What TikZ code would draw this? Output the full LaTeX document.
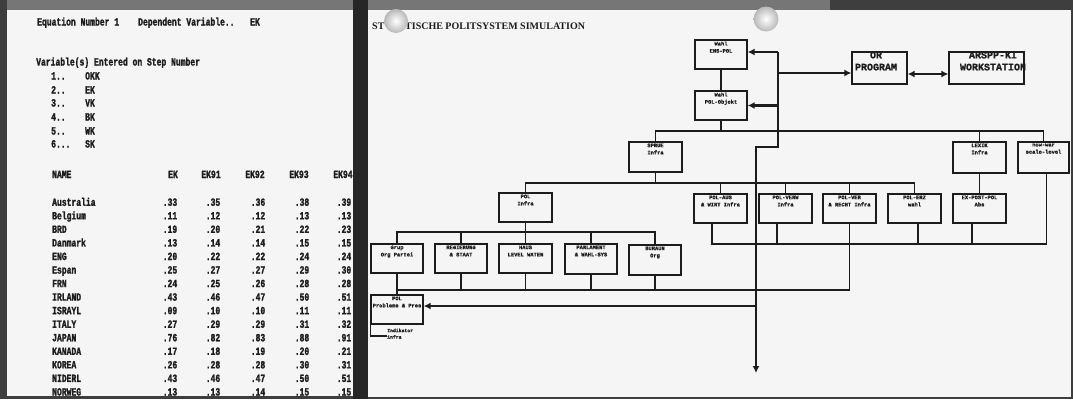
\documentclass[tikz,border=0pt]{standalone}
\usepackage{fontspec}
\setmainfont{Liberation Serif}
\newfontfamily\lpfont[FakeStretch=0.73, BoldFeatures={FakeBold=1.6}]{Liberation Mono}
\newfontfamily\boxfont[BoldFeatures={FakeBold=1.2}]{Liberation Mono}
\usetikzlibrary{arrows.meta}
\definecolor{paper}{HTML}{F5F5F5}
\definecolor{ink}{HTML}{1C1C1C}
\definecolor{bg}{HTML}{3E3E3E}
\definecolor{strip}{HTML}{767676}
\tikzset{
  lp/.style={anchor=base west, inner sep=0pt, text=ink,
    font=\lpfont\bfseries\fontsize{11}{11}\selectfont},
  lpc/.style={lp, anchor=base},
  bx/.style={draw=ink, line width=1.3pt, fill=paper, inner sep=0pt,
    minimum width=53pt, minimum height=29pt},
  bl/.style={anchor=north, inner sep=0pt, align=center, text=ink,
    font=\boxfont\bfseries\fontsize{5.4}{7.2}\selectfont},
  bigl/.style={anchor=north, inner sep=0pt, align=center, text=ink,
    font=\boxfont\bfseries\fontsize{10}{12}\selectfont},
  ttl/.style={anchor=base west, inner sep=0pt, text=ink,
    font=\bfseries\fontsize{10}{10}\selectfont},
  wire/.style={draw=ink, line width=1.1pt},
  bus/.style={draw=ink, line width=2.3pt, line join=miter},
  tip/.style={-{Latex[length=7pt,width=7pt]}},
  dtip/.style={{Latex[length=7pt,width=7pt]}-{Latex[length=7pt,width=7pt]}},
  pin/.style={inner color=white, outer color=gray!55},
}
\begin{document}
\begin{tikzpicture}[x=1pt,y=-1pt]
\useasboundingbox (0,0) rectangle (1073,399);
% photo background and the two sheets
\fill[bg] (0,0) rectangle (1073,399);
\fill[strip] (7,0) rectangle (830,10);
\fill[black!85] (353,0) rectangle (368,399);
\fill[paper] (7,10) rectangle (353,396);
\fill[paper] (368,10) rectangle (1071,397);

% ---------------- left sheet ----------------
\begin{scope}
\clip (7,10) rectangle (353,396);
\node[lp] (eq) at (37,25.5) {Equation Number 1};
\node[lp] (dv) at (138,25.5) {Dependent Variable..};
\node[lp] (dvn) at (250,25.5) {EK};
\node[lp] (ve) at (36,65.5) {Variable(s) Entered on Step Number};
\node[lp] (sn1) at (51,79.5) {1..};
\node[lp] (sn2) at (51,93.5) {2..};
\node[lp] (sn3) at (51,106.5) {3..};
\node[lp] (sn4) at (51,120.5) {4..};
\node[lp] (sn5) at (51,134.5) {5..};
\node[lp] (sn6) at (51,147.5) {6...};
\node[lp] (sv1) at (85,79.5) {OKK};
\node[lp] (sv2) at (85,93.5) {EK};
\node[lp] (sv3) at (85,106.5) {VK};
\node[lp] (sv4) at (85,120.5) {BK};
\node[lp] (sv5) at (85,134.5) {WK};
\node[lp] (sv6) at (85,147.5) {SK};
\node[lp] (nm) at (52,178) {NAME};
\foreach \h/\x [count=\i] in {EK/173, EK91/211, EK92/255, EK93/299, EK94/343}{
  \node[lpc] (hd\i) at (\x,178) {\h};
}
\foreach \nme/\a/\b/\c/\d/\e [count=\i] in {
  Australia/.33/.35/.36/.38/.39,
  Belgium/.11/.12/.12/.13/.13,
  BRD/.19/.20/.21/.22/.23,
  Danmark/.13/.14/.14/.15/.15,
  ENG/.20/.22/.22/.24/.24,
  Espan/.25/.27/.27/.29/.30,
  FRN/.24/.25/.26/.28/.28,
  IRLAND/.43/.46/.47/.50/.51,
  ISRAYL/.09/.10/.10/.11/.11,
  ITALY/.27/.29/.29/.31/.32,
  JAPAN/.76/.82/.83/.88/.91,
  KANADA/.17/.18/.19/.20/.21,
  KOREA/.26/.28/.28/.30/.31,
  NIDERL/.43/.46/.47/.50/.51,
  NORWEG/.13/.13/.14/.15/.15}{
  \pgfmathsetmacro\yy{202.3+(\i-1)*13.55+3.5}
  \node[lp] (r\i) at (52,\yy) {\nme};
  \node[lpc] (r\i a) at (170,\yy) {\a};
  \node[lpc] (r\i b) at (213,\yy) {\b};
  \node[lpc] (r\i c) at (258,\yy) {\c};
  \node[lpc] (r\i d) at (302,\yy) {\d};
  \node[lpc] (r\i e) at (344,\yy) {\e};
}
\end{scope}

% ---------------- right sheet ----------------
\node[ttl] (t1) at (372,29) {ST};
\node[ttl] (t2) at (405,29) {TISCHE POLITSYSTEM SIMULATION};

% boxes
\node[bx, minimum width=52pt] (A) at (721,54.5) {};
\node[bx, minimum width=52pt] (B) at (721,105.5) {};
\node[bx, minimum height=30pt] (C) at (655.5,157) {};
\node[bx, minimum height=31pt] (D) at (979.5,157.5) {};
\node[bx, minimum width=51pt, minimum height=31pt] (E) at (1043.5,157.5) {};
\node[bx, minimum width=55pt, minimum height=32pt] (F) at (879.5,68) {};
\node[bx, minimum width=75pt, minimum height=32pt] (G) at (986.5,68) {};
\node[bx] (H) at (525.5,207.5) {};
\node[bx] (I1) at (720.5,208.5) {};
\node[bx] (I2) at (785.5,208.5) {};
\node[bx] (I3) at (849.5,208.5) {};
\node[bx] (I4) at (914.5,208.5) {};
\node[bx] (I5) at (979.5,208.5) {};
\node[bx, minimum width=52pt] (J1) at (397,258.5) {};
\node[bx, minimum width=52pt] (J2) at (461,258.5) {};
\node[bx] (J3) at (525.5,258.5) {};
\node[bx, minimum width=52pt, minimum height=30pt] (J4) at (591,259) {};
\node[bx, minimum width=52pt, minimum height=30pt] (J5) at (655,260) {};
\node[bx, minimum width=52pt] (K) at (397,309.5) {};

% box texts
\node[bl] (Al) at ([yshift=-2pt]A.north) {Wahl\\ENS-POL};
\node[bl] (Bl) at ([yshift=-2pt]B.north) {Wahl\\POL-Objekt};
\node[bl] (Cl) at ([yshift=-2pt]C.north) {SPRUE\\Infra};
\node[bl] (Dl) at ([yshift=-2pt]D.north) {LEXIK\\Infra};
\node[bl] (El) at ([yshift=-2pt]E.north) {now-war\\scale-level};
\node[bigl] (Fl) at (876,51.5) {OR\\PROGRAM};
\node[bigl] (Gl) at (993,51.5) {ARSPP-KI\\WORKSTATION};
\node[bl] (Hl) at ([yshift=-2pt]H.north) {POL\\Infra};
\node[bl] (I1l) at ([yshift=-2pt]I1.north) {POL-AUS\\\& WIRT Infra};
\node[bl] (I2l) at ([yshift=-2pt]I2.north) {POL-VERW\\Infra};
\node[bl] (I3l) at ([yshift=-2pt]I3.north) {POL-VER\\\& RECHT Infra};
\node[bl] (I4l) at ([yshift=-2pt]I4.north) {POL-ERZ\\wahl};
\node[bl] (I5l) at ([yshift=-2pt]I5.north) {EX-POST-POL\\Abs};
\node[bl] (J1l) at ([yshift=-2pt]J1.north) {Grup\\Org Partei};
\node[bl] (J2l) at ([yshift=-2pt]J2.north) {REGIERUNG\\\& STAAT};
\node[bl] (J3l) at ([yshift=-2pt]J3.north) {HAUS\\LEVEL WATEN};
\node[bl] (J4l) at ([yshift=-2pt]J4.north) {PARLAMENT\\\& WAHL-SYS};
\node[bl] (J5l) at ([yshift=-2pt]J5.north) {BURAUN\\Org};
\node[bl] (Kl) at ([yshift=-2pt]K.north) {POL\\Probleme \& Pres};
\node[bl, anchor=north west, align=left, font=\boxfont\bfseries\fontsize{4.8}{6.5}\selectfont]
  (Kn) at (387,328.5) {Indikator\\infra};

% thin connectors
\coordinate (h1) at (0,131);
\coordinate (h2) at (0,183);
\coordinate (h3) at (0,232);
\coordinate (h4) at (0,290);
\coordinate (h5) at (0,244);
\draw[wire] (A.south) -- (B.north);
\draw[wire] (B.south) -- (B.south |- h1);
\draw[wire] (C.north) -- (C.north |- h1) -| (E.north);
\draw[wire] (D.north) -- (D.north |- h1);
\draw[wire] (C.south) -- (C.south |- h2);
\draw[wire] (H.north) -- (H.north |- h2) -| (I4.north);
\foreach \n in {I1,I2,I3}{\draw[wire] (\n.north) -- (\n.north |- h2);}
\draw[wire] (D.south) -- (I5.north);
\draw[wire] (H.south) -- (H.south |- h3);
\draw[wire] (J1.north) -- (J1.north |- h3) -| (J5.north);
\foreach \n in {J2,J3,J4}{\draw[wire] (\n.north) -- (\n.north |- h3);}
\draw[wire] (J1.south) -- (K.north);
\draw[wire] (J1.south |- h4) -| (I3.south);
\foreach \n in {J2,J3,J4,J5}{\draw[wire] (\n.south) -- (\n.south |- h4);}
\coordinate (i1d) at ([xshift=-8.5pt]I1.south);
\coordinate (i2d) at ([xshift=-8.5pt]I2.south);
\coordinate (i4d) at ([xshift=3.5pt]I4.south);
\coordinate (i5d) at ([xshift=-7.5pt]I5.south);
\coordinate (ed) at ([xshift=3pt]E.south);
\draw[wire] (i1d) -- (i1d |- h5) -| (ed);
\foreach \n in {i2d,i4d,i5d}{\draw[wire] (\n) -- (\n |- h5);}
\coordinate (kb) at (387,336);
\draw[wire] (K.south west) |- (kb);

% thick bus with arrows
\coordinate (T1) at (778,52);
\coordinate (T2) at (778,147);
\coordinate (T3) at (756,147);
\coordinate (T4) at (756,373);
\coordinate (T5) at (778,105.5);
\coordinate (T6) at (778,73);
\coordinate (T7) at (0,74);
\coordinate (T8) at (756,306);
\draw[bus, tip] (T1) -- (T2) -- (T3) -- (T4);
\draw[bus, tip] (T1) -- (A.east |- T1);
\draw[bus, tip] (T5) -- (B.east);
\draw[bus, tip] (T6) -- (F.west |- T6);
\draw[bus, dtip] (F.east |- T7) -- (G.west |- T7);
\draw[bus, tip] (T8) -- (K.east |- T8);

% push pins
\shade[pin] (396,21) circle (12pt);
\shade[pin] (766,19) circle (12.5pt);
\end{tikzpicture}
\end{document}
